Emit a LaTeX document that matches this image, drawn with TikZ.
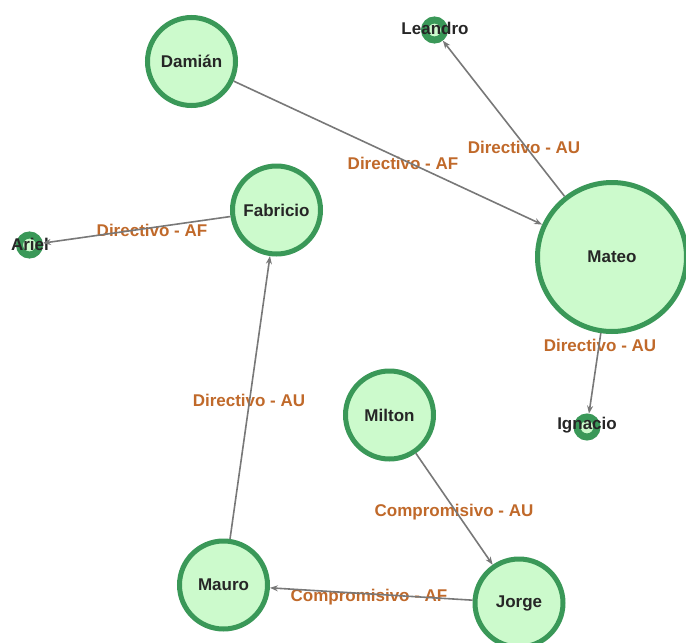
\documentclass[tikz,border=0pt]{standalone}
\usepackage{fontspec}
\setmainfont{Liberation Sans}
\usetikzlibrary{arrows.meta}
\definecolor{nodefill}{RGB}{204,250,204}
\definecolor{nodeborder}{RGB}{58,152,88}
\definecolor{edgegray}{RGB}{120,120,120}
\definecolor{labelbrown}{RGB}{192,105,42}
\begin{document}
\begin{tikzpicture}[x=1pt,y=-1pt,
  person/.style={circle,draw=nodeborder,fill=nodefill,line width=5pt,inner sep=0pt,
    font=\fontsize{17}{20}\selectfont\bfseries,text=black!85},
  bigperson/.style={person,minimum size=88pt},
  hugeperson/.style={person,minimum size=149pt},
  tinyperson/.style={person,line width=7pt,minimum size=20pt},
  personname/.style={font=\fontsize{17}{20}\selectfont\bfseries,text=black!85,inner sep=0pt},
  rel/.style={draw=edgegray,line width=1.6pt,-{Stealth[length=8pt,width=6pt]}},
  rellabel/.style={font=\fontsize{17}{20}\selectfont\bfseries,text=labelbrown,inner sep=0pt}]
\useasboundingbox (0,0) rectangle (686,643);
% nodes
\node[bigperson] (damian) at (191.5,61.5) {Damián};
\node[tinyperson] (leandro) at (434.5,30) {};
\node[personname] (leandroT) at (435,28) {Leandro};
\node[bigperson] (fabricio) at (276.5,210) {Fabricio};
\node[tinyperson] (ariel) at (29.5,245) {};
\node[personname] (arielT) at (30,244) {Ariel};
\node[hugeperson] (mateo) at (612,257) {Mateo};
\node[tinyperson] (ignacio) at (587,427) {};
\node[personname] (ignacioT) at (587,425) {Ignacio};
\node[bigperson] (milton) at (389.5,415) {Milton};
\node[bigperson] (mauro) at (223.5,585) {Mauro};
\node[bigperson] (jorge) at (519,603) {Jorge};
% labels
\node[rellabel] (l1) at (403,163) {Directivo - AF};
\node[rellabel] (l2) at (524,147) {Directivo - AU};
\node[rellabel] (l3) at (600,345) {Directivo - AU};
\node[rellabel] (l4) at (152,230) {Directivo - AF};
\node[rellabel] (l5) at (249,400) {Directivo - AU};
\node[rellabel] (l6) at (454,512) {Compromisivo - AU};
\node[rellabel] (l7) at (369,597) {Compromisivo - AF};
% edges
\draw[rel] (damian) -- (mateo);
\draw[rel] (mateo) -- (leandro);
\draw[rel] (mateo) -- (ignacio);
\draw[rel] (fabricio) -- (ariel);
\draw[rel] (mauro) -- (fabricio);
\draw[rel] (milton) -- (jorge);
\draw[rel] (jorge) -- (mauro);
\end{tikzpicture}
\end{document}
